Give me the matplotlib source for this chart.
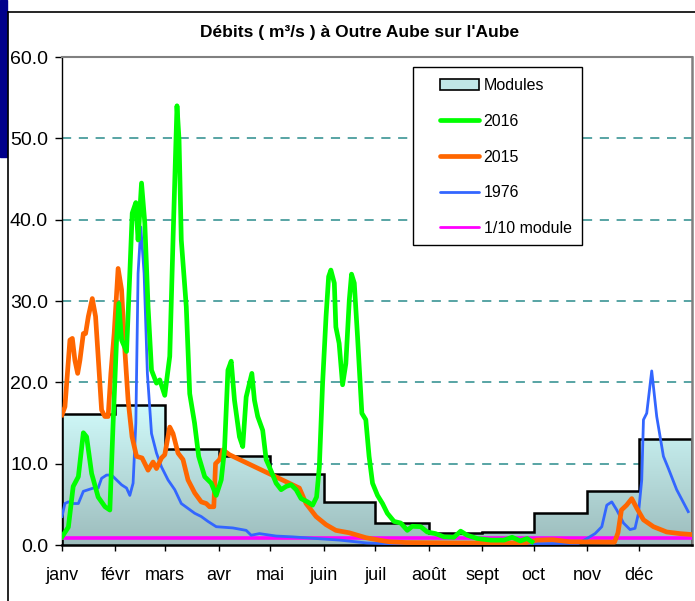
import matplotlib
matplotlib.use("Agg")
import matplotlib.pyplot as plt
import numpy as np
from matplotlib.patches import Rectangle, Patch
from matplotlib.lines import Line2D
from matplotlib.colors import LinearSegmentedColormap

plt.rcParams['font.family'] = ['Liberation Sans', 'DejaVu Sans']

# ---------------- data ----------------
month_labels = ['janv', 'févr', 'mars', 'avr', 'mai', 'juin', 'juil', 'août', 'sept', 'oct', 'nov', 'déc']
month_edges = [0, 31, 60, 91, 121, 152, 182, 213, 244, 274, 305, 335, 366]
modules = [16.1, 17.2, 11.8, 10.9, 8.7, 5.3, 2.75, 1.45, 1.65, 3.9, 6.7, 13.0]
tenth_module = 0.85

days_2016 = [0, 3.7, 6.5, 9.5, 12.4, 14.3, 17.2, 21, 25, 27.8, 29.7, 31.7, 33, 34.6, 37.5, 39.4,
             40.8, 42.9, 44.2, 46.2, 48.1, 50, 52, 54.9, 56.8, 59.7, 62.6, 64.5, 66.8, 68, 69.3,
             72.2, 74.2, 77, 79.4, 82.9, 86.7, 89.6, 92.5, 94.4, 96.4, 98.3, 100.2, 103.1, 105,
             107, 110.3, 111.8, 113.7, 116.6, 118.6, 120.5, 124.4, 127.3, 130.2, 133.1, 136,
             138.9, 142.7, 145.6, 147.9, 149.5, 151.4, 153.4, 154.9, 156.2, 158.2, 159.1, 161,
             163, 164.9, 166.9, 168.2, 169.8, 171.7, 174.2, 176.5, 178.4, 180.4, 183.3, 186.2,
             189, 192.9, 196.8, 200.6, 203.5, 208.4, 212.2, 217, 221.9, 227.7, 231.6, 235.4,
             241.2, 249, 256.7, 261.5, 266.3, 270.2, 273]
q_2016 = [1.0, 2.2, 7.2, 8.4, 13.8, 13.3, 8.8, 5.9, 4.7, 4.3, 15.0, 25.2, 29.7, 25.2, 23.8, 33.4,
          40.8, 42.1, 37.5, 44.5, 39.6, 29.3, 21.5, 19.9, 20.3, 18.4, 23.2, 37.5, 54.0, 49.8, 37.5,
          29.3, 18.6, 15.0, 10.9, 8.4, 7.6, 6.1, 8.0, 11.7, 21.5, 22.6, 17.8, 13.3, 12.1,
          18.2, 21.1, 17.8, 15.8, 14.1, 10.5, 9.6, 7.6, 6.8, 7.2, 7.4, 6.8,
          5.7, 5.3, 4.9, 5.9, 9.6, 19.9, 28.1, 33.0, 33.8, 32.2, 26.8, 24.8,
          19.7, 22.3, 30.1, 33.3, 32.2, 25.6, 16.2, 15.4, 10.9, 7.6, 6.1, 5.1,
          3.9, 2.9, 2.7, 1.8, 2.3, 2.25, 1.6, 1.4, 1.0, 0.95, 1.7, 1.2,
          0.8, 0.6, 0.6, 0.95, 0.5, 0.8, 0.4]

days_2015 = [0, 1.7, 4.6, 6, 7.5, 9.1, 10.4, 12.4, 13.7, 15.3, 17.6, 19.5, 21, 23, 24.9, 26.8,
             28.4, 30.3, 32.6, 34.6, 36.5, 38.4, 40.7, 43.3, 46.5, 50, 52.9, 54.9, 57.8, 59.7,
             62.6, 64.5, 67.4, 70.3, 73.2, 77.1, 80.9, 83.8, 85.7, 88.2, 89.2, 91.5, 93.5, 97.3,
             137.9, 141.8, 147.6, 153.4, 159.1, 166.9, 176.5, 184.2, 190, 200, 230, 260, 270,
             276, 285, 295, 321, 323, 325, 328, 331, 334, 337.8, 343.6, 351.3, 359, 364.9]
q_2015 = [16.0, 17.0, 25.2, 25.4, 22.7, 21.1, 22.7, 26.0, 26.0, 28.1, 30.3, 28.1, 23.2, 16.6, 15.8, 15.8,
          21.1, 26.0, 34.0, 31.4, 24.0, 17.8, 13.3, 10.9, 10.7, 9.2, 10.2, 9.4, 10.7, 11.1,
          14.5, 13.7, 11.3, 10.5, 8.0, 6.4, 5.3, 5.1, 4.7, 4.7, 10.0, 10.5, 11.7, 11.1,
          7.0, 5.1, 3.5, 2.5, 1.8, 1.5, 0.9, 0.6, 0.4, 0.3, 0.25, 0.25, 0.3,
          0.6, 0.65, 0.4, 0.35, 1.5, 4.3, 4.9, 5.7, 4.5, 3.1, 2.25, 1.6, 1.4, 1.3]

days_1976 = [0, 1.7, 3.7, 6.5, 9.5, 12.4, 15.3, 18.2, 21, 23, 25.9, 28.8, 31.7, 34.6, 37.5, 39.4,
             41.3, 42.9, 44.2, 45.8, 47.7, 49.6, 52, 54.9, 57.8, 61.6, 65.5, 69.3, 73.2, 77.1,
             80.9, 84.8, 89.6, 99.2, 107, 109.9, 114.7, 124.4, 134, 147.6, 161.5, 177, 190,
             250, 300, 305, 309.7, 313.6, 316.5, 319.4, 322.3, 326.2, 330, 332.9, 334.9,
             336.8, 337.8, 339.7, 342.6, 345.5, 349.4, 352.3, 357.1, 363.8]
q_1976 = [3.5, 5.1, 5.3, 5.1, 5.1, 6.6, 6.8, 7.0, 7.0, 8.2, 8.6, 8.6, 8.0, 7.4, 7.0, 6.1,
          7.6, 15.0, 33.4, 39.1, 33.4, 21.1, 13.7, 11.3, 9.6, 8.0, 6.8, 5.1, 4.5, 3.9,
          3.5, 2.9, 2.25, 2.1, 1.8, 1.2, 1.4, 1.1, 1.0, 0.8, 0.6, 0.25, 0.15,
          0.15, 0.2, 0.8, 1.4, 2.25, 4.9, 5.3, 4.3, 2.7, 1.9, 2.05, 3.9,
          8.0, 15.4, 16.2, 21.4, 15.8, 10.9, 9.4, 6.8, 4.1]

y_ticks = [0, 10, 20, 30, 40, 50, 60]
y_ticklabels = ['0.0', '10.0', '20.0', '30.0', '40.0', '50.0', '60.0']

title = "Débits ( m³/s ) à Outre Aube sur l'Aube"

# ---------------- figure ----------------
W, H = 695, 601
fig = plt.figure(figsize=(W / 100, H / 100), dpi=100)
fig.patch.set_facecolor('white')

L, R, T, B = 62, 692, 57, 545
ax = fig.add_axes([L / W, 1 - B / H, (R - L) / W, (B - T) / H])
ax.set_xlim(0, 366)
ax.set_ylim(0, 60)

# modules area with vertical gradient
mod_y = modules + [modules[-1]]
poly = ax.fill_between(month_edges, 0, mod_y, step='post', facecolor='none', edgecolor='none', zorder=1)
cmap = LinearSegmentedColormap.from_list('mod', ['#9cbcbc', '#d2fcfc'])
grad = np.linspace(0, 1, 256).reshape(-1, 1)
im = ax.imshow(grad, extent=[0, 366, 0, 17.5], origin='lower', aspect='auto', cmap=cmap, zorder=1)
im.set_clip_path(poly.get_paths()[0], transform=ax.transData)
ax.stairs(modules, month_edges, baseline=0, color='black', lw=1.8, zorder=2)

# grid
for yv in y_ticks[1:]:
    ax.axhline(yv, color='#2a8c8c', lw=1.1, dashes=(6, 5), zorder=0.5)

# series
ax.axhline(tenth_module, color='#ff00ff', lw=2.6, zorder=3)
ax.plot(days_1976, q_1976, color='#3366ff', lw=2.0, zorder=4, solid_joinstyle='round')
ax.plot(days_2015, q_2015, color='#ff6600', lw=3.4, zorder=5, solid_joinstyle='round')
ax.plot(days_2016, q_2016, color='#00ff00', lw=3.4, zorder=6, solid_joinstyle='round')

# spines
ax.spines['left'].set_color('black')
ax.spines['left'].set_linewidth(1.0)
ax.spines['bottom'].set_color('black')
ax.spines['bottom'].set_linewidth(1.8)
ax.spines['top'].set_color('#808080')
ax.spines['top'].set_linewidth(1.5)
ax.spines['right'].set_color('#808080')
ax.spines['right'].set_linewidth(1.8)

ax.set_xticks(month_edges[:-1])
ax.set_xticklabels(month_labels, fontsize=13)
ax.set_yticks(y_ticks)
ax.set_yticklabels(y_ticklabels, fontsize=14)
ax.tick_params(axis='x', length=4, width=1, pad=12, colors='black')
ax.tick_params(axis='y', length=5, width=1, pad=5)

# legend
lx0, lx1, ly0, ly1 = 413, 582, 67, 245
ax.add_patch(Rectangle(((lx0 - L) / (R - L), (B - ly1) / (B - T)), (lx1 - lx0) / (R - L), (ly1 - ly0) / (B - T),
                       transform=ax.transAxes, facecolor='white', edgecolor='black', lw=1.0, zorder=7))
handles = [Patch(facecolor='#c0e6e6', edgecolor='black', lw=1.2),
           Line2D([], [], color='#00ff00', lw=3.4, solid_capstyle='round'),
           Line2D([], [], color='#ff6600', lw=3.4, solid_capstyle='round'),
           Line2D([], [], color='#3366ff', lw=2.0, solid_capstyle='round'),
           Line2D([], [], color='#ff00ff', lw=2.0, solid_capstyle='round')]
labels = ['Modules', '2016', '2015', '1976', '1/10 module']
leg = ax.legend(handles, labels, loc='upper left',
                bbox_to_anchor=((440 - L) / (R - L), (B - 78) / (B - T)),
                frameon=False, fontsize=11.5, borderpad=0, borderaxespad=0,
                handlelength=2.45, handleheight=0.7, handletextpad=0.28, labelspacing=1.3)
leg.set_zorder(8)

# title
fig.text(0.518, 1 - 33 / H, title, ha='center', va='center', fontsize=12.5, fontweight='bold')

# outer frame and navy bar
fig.add_artist(Line2D([8 / W, 1], [1 - 12 / H, 1 - 12 / H], color='black', lw=1.2, transform=fig.transFigure))
fig.add_artist(Line2D([8 / W, 8 / W], [0, 1 - 12 / H], color='black', lw=1.2, transform=fig.transFigure))
fig.add_artist(Rectangle((0, 1 - 157 / H), 7 / W, 157 / H, color='#00008b', transform=fig.transFigure))

fig.savefig('out.png', dpi=100)
